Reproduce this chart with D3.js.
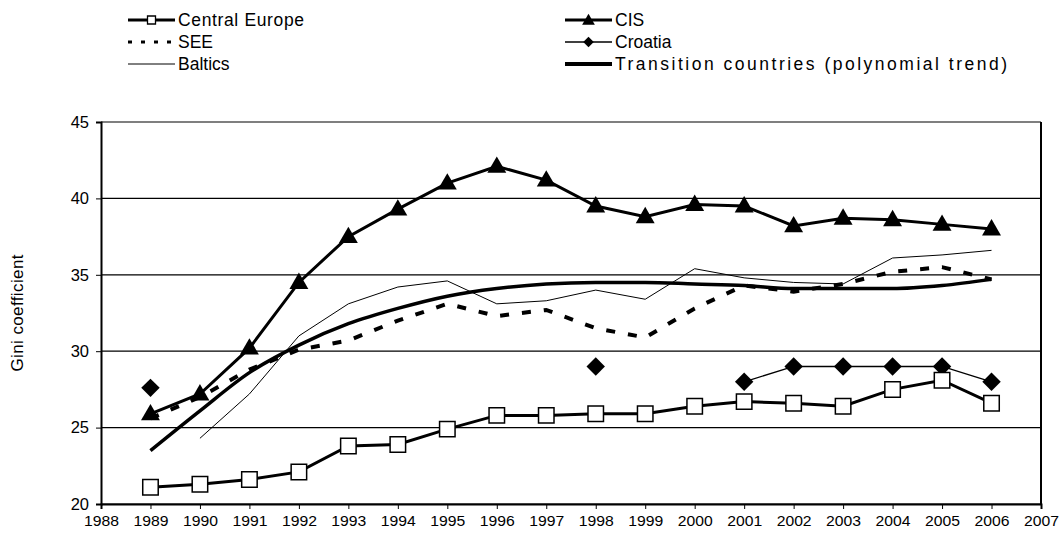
<!DOCTYPE html>
<html>
<head>
<meta charset="utf-8">
<script src="https://cdn.jsdelivr.net/npm/d3@7"></script>
<style>
  html, body { margin: 0; padding: 0; background: #fff; }
  svg { display: block; font-family: "Liberation Sans", Arial, sans-serif; }
</style>
</head>
<body>
<svg id="chart" width="1063" height="540"></svg>
<script>
const years = [1989,1990,1991,1992,1993,1994,1995,1996,1997,1998,1999,2000,2001,2002,2003,2004,2005,2006];
const xTicks = [1988,1989,1990,1991,1992,1993,1994,1995,1996,1997,1998,1999,2000,2001,2002,2003,2004,2005,2006,2007];
const yTicks = [20,25,30,35,40,45];

const centralEurope = [21.1,21.3,21.6,22.1,23.8,23.9,24.9,25.8,25.8,25.9,25.9,26.4,26.7,26.6,26.4,27.5,28.1,26.6];
const cis           = [25.9,27.2,30.2,34.5,37.5,39.3,41.0,42.1,41.2,39.5,38.8,39.6,39.5,38.2,38.7,38.6,38.3,38.0];
const see           = [25.6,27.0,28.8,30.1,30.7,32.0,33.1,32.3,32.7,31.5,30.9,32.8,34.3,33.9,34.4,35.2,35.5,34.7];
const croatia       = [27.6,null,null,null,null,null,null,null,null,29.0,null,null,28.0,29.0,29.0,29.0,29.0,28.0];
const baltics       = [null,24.3,27.2,31.0,33.1,34.2,34.6,33.1,33.3,34.0,33.4,35.4,34.8,34.5,34.4,36.1,36.3,36.6];
const trend         = [23.5,26.1,28.6,30.4,31.8,32.8,33.6,34.1,34.4,34.5,34.5,34.4,34.3,34.1,34.1,34.1,34.3,34.7];

const legendNames = ["Central Europe", "SEE", "Baltics", "CIS", "Croatia", "Transition countries (polynomial trend)"];

const svg = d3.select("#chart");
const L = 101, R = 1041, T = 122, B = 504;
const FONT = "'Liberation Sans', Arial, sans-serif";

const x = d3.scaleLinear().domain([1988, 2007]).range([L, R]);
const y = d3.scaleLinear().domain([20, 45]).range([B, T]);

// gridlines
svg.append("g").selectAll("line").data(yTicks).join("line")
  .attr("x1", L).attr("x2", R)
  .attr("y1", d => y(d)).attr("y2", d => y(d))
  .attr("stroke", "#000").attr("stroke-width", 1.2);

// right border
svg.append("line").attr("x1", R).attr("x2", R).attr("y1", T).attr("y2", B)
  .attr("stroke", "#000").attr("stroke-width", 2);

// axes
const yAxis = d3.axisLeft(y).tickValues(yTicks).tickSize(5).tickPadding(7).tickFormat(d3.format("d"));
const gy = svg.append("g").attr("transform", `translate(${L},0)`).call(yAxis);
gy.select(".domain").attr("stroke-width", 2);
gy.selectAll("text").attr("font-size", 16.5).attr("fill", "#000").attr("font-family", FONT);

const xAxis = d3.axisBottom(x).tickValues(xTicks).tickSize(5).tickPadding(7).tickFormat(d3.format("d"));
const gx = svg.append("g").attr("transform", `translate(0,${B})`).call(xAxis);
gx.select(".domain").attr("stroke-width", 2);
gx.selectAll("text").attr("font-size", 14).attr("fill", "#000").attr("font-family", FONT)
  .attr("textLength", 35).attr("lengthAdjust", "spacingAndGlyphs");

// y title
svg.append("text")
  .attr("transform", `translate(23,${(T + B) / 2}) rotate(-90)`)
  .attr("text-anchor", "middle")
  .attr("font-size", 17)
  .attr("font-family", FONT)
  .attr("textLength", 117).attr("lengthAdjust", "spacing")
  .text("Gini coefficient");

const lineGen = d3.line()
  .defined(d => d[1] !== null)
  .x(d => x(d[0])).y(d => y(d[1]));
const pairs = arr => years.map((yr, i) => [yr, arr[i]]);

const sq = d3.symbol().type(d3.symbolSquare).size(240);
const tri = d3.symbol().type(d3.symbolTriangle).size(155);
const dia = d3.symbol().type(d3.symbolSquare).size(170);

const plot = svg.append("g");

// Baltics
plot.append("path").attr("d", lineGen(pairs(baltics)))
  .attr("fill", "none").attr("stroke", "#000").attr("stroke-width", 1);

// SEE
plot.append("path").attr("d", lineGen(pairs(see)))
  .attr("fill", "none").attr("stroke", "#000").attr("stroke-width", 4)
  .attr("stroke-dasharray", "9,13");

// Trend (polynomial)
plot.append("path").attr("d", d3.line().curve(d3.curveMonotoneX).x(d => x(d[0])).y(d => y(d[1]))(pairs(trend)))
  .attr("fill", "none").attr("stroke", "#000").attr("stroke-width", 3.5);

// CIS
plot.append("path").attr("d", lineGen(pairs(cis)))
  .attr("fill", "none").attr("stroke", "#000").attr("stroke-width", 3);
plot.append("g").selectAll("path").data(pairs(cis)).join("path")
  .attr("transform", d => `translate(${x(d[0])},${y(d[1]) + 1})`)
  .attr("d", tri).attr("fill", "#000");

// Croatia
plot.append("path").attr("d", lineGen(pairs(croatia)))
  .attr("fill", "none").attr("stroke", "#000").attr("stroke-width", 1.3);
plot.append("g").selectAll("path").data(pairs(croatia).filter(d => d[1] !== null)).join("path")
  .attr("transform", d => `translate(${x(d[0])},${y(d[1])}) rotate(45)`)
  .attr("d", dia).attr("fill", "#000");

// Central Europe
plot.append("path").attr("d", lineGen(pairs(centralEurope)))
  .attr("fill", "none").attr("stroke", "#000").attr("stroke-width", 3);
plot.append("g").selectAll("path").data(pairs(centralEurope)).join("path")
  .attr("transform", d => `translate(${x(d[0])},${y(d[1])})`)
  .attr("d", sq).attr("fill", "#fff").attr("stroke", "#000").attr("stroke-width", 1.5);

// Legend
const legendWidths = [126, null, null, null, null, 392];
const legendCols = [128, 565];
const legendRows = [20, 42, 64];
const lg = svg.append("g");
legendNames.forEach((name, i) => {
  const cx = legendCols[Math.floor(i / 3)];
  const cy = legendRows[i % 3];
  const g = lg.append("g").attr("transform", `translate(${cx},${cy})`);
  const w = 47;
  const ln = g.append("line").attr("x1", 0).attr("x2", w).attr("y1", 0).attr("y2", 0).attr("stroke", "#000");
  if (i === 0) {
    ln.attr("stroke-width", 3);
    g.append("path").attr("transform", `translate(${w/2},0)`).attr("d", d3.symbol().type(d3.symbolSquare).size(64))
      .attr("fill", "#fff").attr("stroke", "#000").attr("stroke-width", 1.3);
  } else if (i === 1) {
    ln.attr("stroke-width", 3).attr("stroke-dasharray", "4,9");
  } else if (i === 2) {
    ln.attr("stroke-width", 1);
  } else if (i === 3) {
    ln.attr("stroke-width", 3);
    g.append("path").attr("transform", `translate(${w/2},1)`).attr("d", d3.symbol().type(d3.symbolTriangle).size(70)).attr("fill", "#000");
  } else if (i === 4) {
    ln.attr("stroke-width", 1.3);
    g.append("path").attr("transform", `translate(${w/2},0) rotate(45)`).attr("d", d3.symbol().type(d3.symbolSquare).size(55)).attr("fill", "#000");
  } else {
    ln.attr("stroke-width", 4);
  }
  const t = g.append("text").attr("x", w + 3).attr("y", 0).attr("dy", "0.35em")
    .attr("font-size", 17.5).attr("font-family", FONT)
    .text(name);
  if (legendWidths[i]) t.attr("textLength", legendWidths[i]).attr("lengthAdjust", "spacing");
});
</script>
</body>
</html>
